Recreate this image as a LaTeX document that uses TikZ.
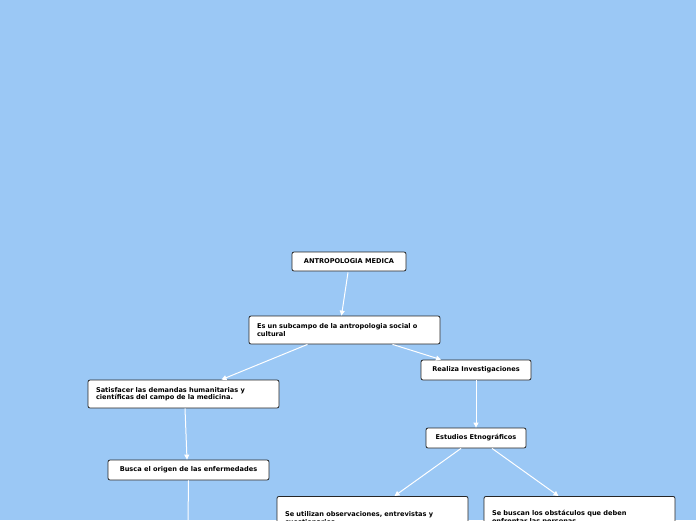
\documentclass[tikz,border=0pt]{standalone}
\usepackage{fontspec}
\setmainfont{DejaVu Sans}
\usetikzlibrary{arrows.meta}
\definecolor{bg}{HTML}{9BC8F5}
\tikzset{box/.style={draw=black!85,fill=white,rounded corners=2pt,line width=0.8pt,font=\bfseries\fontsize{6.6}{7.6}\selectfont,inner sep=0pt},
wbox/.style={box,minimum width=191pt,text width=175pt,align=left,font=\bfseries\fontsize{6.6}{7.6}\selectfont\raggedright},
conn/.style={draw=white,line width=1pt,-{Triangle[width=5pt,length=5pt]}}}
\begin{document}
\begin{tikzpicture}[x=1pt,y=-1pt]
\clip (0,0) rectangle (696,520);
\fill[bg] (0,0) rectangle (696,520);
\useasboundingbox (0,0) rectangle (696,520);
\node[box,minimum width=114pt,minimum height=19pt] (A) at (349,261.5) {ANTROPOLOGIA MEDICA};
\node[wbox,minimum height=28pt] (B) at (344.5,330) {\parbox{166pt}{\raggedright Es un subcampo de la antropologia social o cultural}};
\node[wbox,minimum height=28pt] (C) at (183.5,394) {\parbox{166pt}{\raggedright Satisfacer las demandas humanitarias y científicas del campo de la medicina.}};
\node[box,minimum width=110pt,minimum height=20pt] (D) at (476,370) {Realiza Investigaciones};
\node[box,minimum width=100pt,minimum height=20pt] (E) at (476,438) {Estudios Etnográficos};
\node[box,minimum width=161pt,minimum height=20pt] (F) at (188.5,470) {Busca el origen de las enfermedades};
\node[wbox,minimum height=40pt,anchor=north] (G) at (372.5,496) {\rule{0pt}{8pt}\parbox[t]{166pt}{\raggedright Se utilizan observaciones, entrevistas y cuestionarios.}\par\vspace{16pt}};
\node[wbox,minimum height=40pt,anchor=north] (H) at (579.5,496) {\rule{0pt}{8pt}\parbox[t]{166pt}{\raggedright Se buscan los obstáculos que deben enfrentar las personas}\par\vspace{16pt}};
\coordinate (bot) at (188,522);
\draw[conn] (A.south) ++(-1,1) -- ([xshift=-3pt]B.north);
\draw[conn] ([xshift=-37pt]B.south) -- ([xshift=38pt]C.north);
\draw[conn] ([xshift=48pt]B.south) -- ([xshift=-35pt]D.north);
\draw[conn] (D.south) -- (E.north);
\draw[conn] ([xshift=1.5pt]C.south) -- ([xshift=-1.5pt]F.north);
\draw[conn] ([xshift=-15pt]E.south) -- ([xshift=22pt]G.north);
\draw[conn] ([xshift=16pt]E.south) -- ([xshift=-21pt]H.north);
\draw[draw=white,line width=1pt] (F.south) -- (bot);
\end{tikzpicture}
\end{document}
